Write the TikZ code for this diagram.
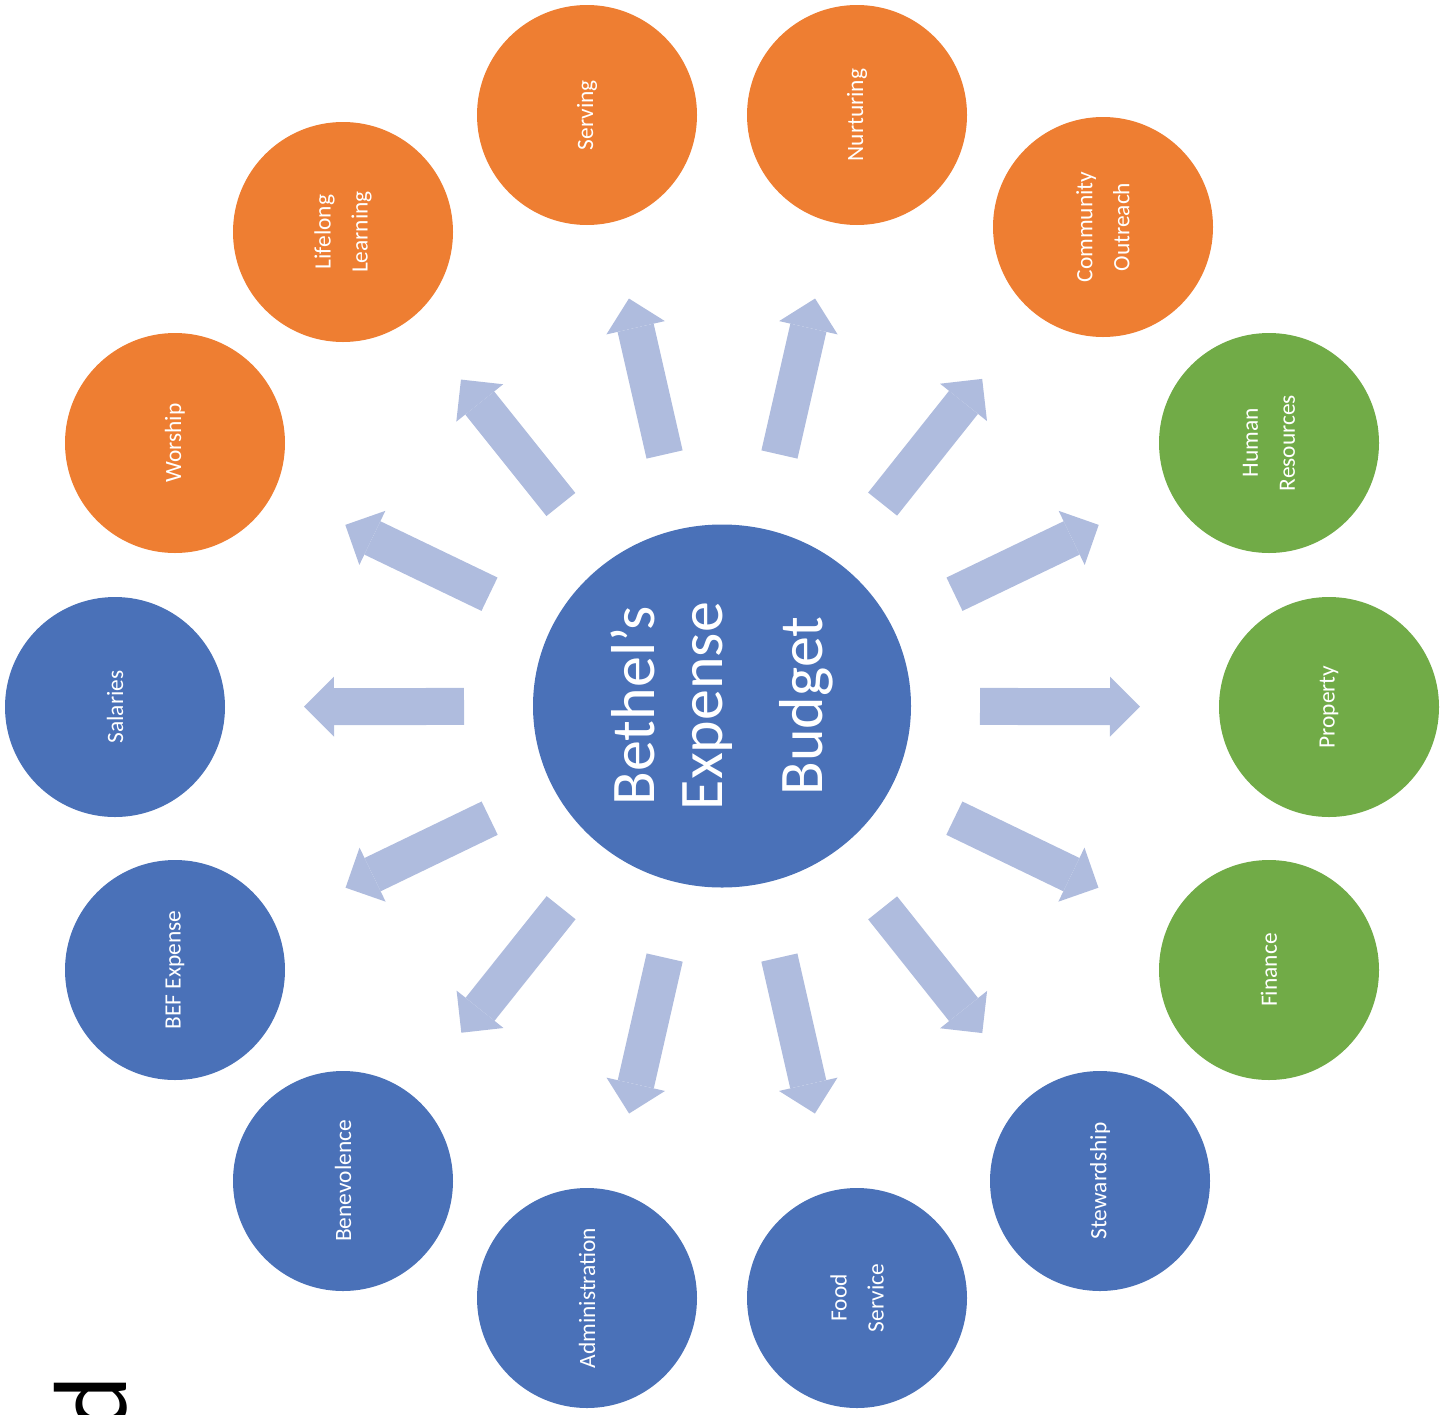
\documentclass[tikz,border=0pt]{standalone}
\usepackage{fontspec}
\setmainfont{Carlito}
\usetikzlibrary{arrows.meta,shapes.geometric,calc}
\definecolor{hubblue}{HTML}{4A71B8}
\definecolor{deptorange}{HTML}{EE7E32}
\definecolor{deptgreen}{HTML}{71AB47}
\definecolor{arrowblue}{HTML}{AFBCDE}

\begin{document}
\begin{tikzpicture}[x=0.5pt,y=-0.5pt,
  dept node/.style={circle,text=white,minimum size=110pt,inner sep=0pt,rotate=90,
    align=center,font=\fontsize{11.7}{18.5}\selectfont},
  orange node/.style={dept node,fill=deptorange},
  green node/.style={dept node,fill=deptgreen},
  blue node/.style={dept node,fill=hubblue},
  hub node/.style={ellipse,fill=hubblue,text=white,minimum width=181.5pt,minimum height=189pt,
    inner sep=0pt,rotate=90,align=center,font=\fontsize{31}{34}\selectfont},
  block arrow/.style={draw=arrowblue,line width=18.5pt,
    -{Triangle[length=15pt,width=30pt,line width=0pt]}}]
  \useasboundingbox (0,0) rectangle (1450,1414);

  \node[hub node] (ctr) at (722,706) {Bethel’s\\Expense\\[16pt]Budget};

  \node[blue node] (sal) at (115,707) {Salaries};
  \node[orange node] (wor) at (175,443) {Worship};
  \node[orange node] (lll) at (343,232) {Lifelong\\Learning};
  \node[orange node] (srv) at (587,115) {Serving};
  \node[orange node] (nur) at (857,115) {Nurturing};
  \node[orange node] (com) at (1103,227) {Community\\Outreach};
  \node[green node] (hr) at (1269,443) {Human\\Resources};
  \node[green node] (pro) at (1329,707) {Property};
  \node[green node] (fin) at (1269,970) {Finance};
  \node[blue node] (stw) at (1100,1181) {Stewardship};
  \node[blue node] (food) at (857,1298) {Food\\Service};
  \node[blue node] (adm) at (587,1298) {Administration};
  \node[blue node] (ben) at (343,1181) {Benevolence};
  \node[blue node] (bef) at (175,970) {BEF Expense};

  % stray letter cut off at the lower edge
  \node[rotate=90,anchor=base east,inner sep=0pt,font=\fontsize{52}{60}\selectfont] (stray) at (126,1375) {d};

  % arrows from the budget to each part
  \draw[block arrow] ($(ctr)!129pt!(sal)$) -- ($(ctr)!209pt!(sal)$);
  \draw[block arrow] ($(ctr)!129pt!(wor)$) -- ($(ctr)!209pt!(wor)$);
  \draw[block arrow] ($(ctr)!129pt!(lll)$) -- ($(ctr)!209pt!(lll)$);
  \draw[block arrow] ($(ctr)!129pt!(srv)$) -- ($(ctr)!209pt!(srv)$);
  \draw[block arrow] ($(ctr)!129pt!(nur)$) -- ($(ctr)!209pt!(nur)$);
  \draw[block arrow] ($(ctr)!129pt!(com)$) -- ($(ctr)!209pt!(com)$);
  \draw[block arrow] ($(ctr)!129pt!(hr)$) -- ($(ctr)!209pt!(hr)$);
  \draw[block arrow] ($(ctr)!129pt!(pro)$) -- ($(ctr)!209pt!(pro)$);
  \draw[block arrow] ($(ctr)!129pt!(fin)$) -- ($(ctr)!209pt!(fin)$);
  \draw[block arrow] ($(ctr)!129pt!(stw)$) -- ($(ctr)!209pt!(stw)$);
  \draw[block arrow] ($(ctr)!129pt!(food)$) -- ($(ctr)!209pt!(food)$);
  \draw[block arrow] ($(ctr)!129pt!(adm)$) -- ($(ctr)!209pt!(adm)$);
  \draw[block arrow] ($(ctr)!129pt!(ben)$) -- ($(ctr)!209pt!(ben)$);
  \draw[block arrow] ($(ctr)!129pt!(bef)$) -- ($(ctr)!209pt!(bef)$);
\end{tikzpicture}
\end{document}
